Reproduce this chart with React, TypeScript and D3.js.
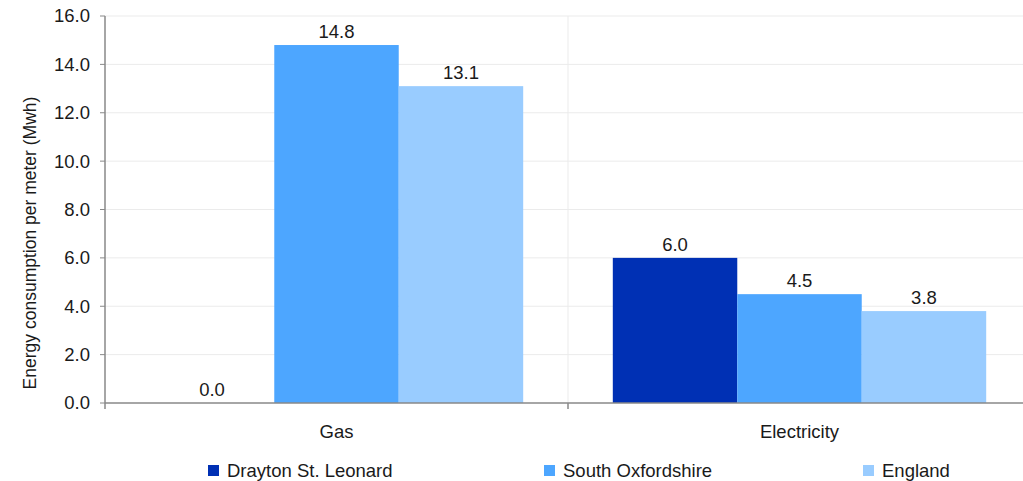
import React from "react";
import * as d3 from "d3";

const categories = ["Gas", "Electricity"];
const seriesNames = ["Drayton St. Leonard", "South Oxfordshire", "England"];
const drayton = [0.0, 6.0];
const southOx = [14.8, 4.5];
const england = [13.1, 3.8];
const yTicks = [0, 2, 4, 6, 8, 10, 12, 14, 16];
const colors = ["#0030b4", "#4da6ff", "#99ccff"];

const W = 1023;
const H = 481;
const left = 105;
const right = 1031;
const top = 16;
const bottom = 403;
const font = "'Liberation Sans', Arial, Helvetica, sans-serif";
const fs = 18.5;

export default function App() {
  const series = [drayton, southOx, england];
  const x0 = d3.scaleBand<string>().domain(categories).range([left, right]).paddingInner(0).paddingOuter(0);
  const x1 = d3.scaleBand<string>().domain(seriesNames).range([0, x0.bandwidth()]).paddingOuter(0.36).paddingInner(0);
  const y = d3.scaleLinear().domain([0, 16]).range([bottom, top]);

  const legendX = [208, 544, 863];

  return (
    <svg width={W} height={H} style={{ position: "absolute", left: 0, top: 0 }} fontFamily={font}>
      <rect width={W} height={H} fill="#fff" />
      {yTicks.map((t) => (
        <g key={t}>
          {t > 0 && <line x1={left} x2={right} y1={y(t)} y2={y(t)} stroke="#ebebeb" strokeWidth={1} />}
          <line x1={left - 5} x2={left} y1={y(t)} y2={y(t)} stroke="#888" strokeWidth={1} />
          <text x={left - 15} y={y(t)} dy="0.35em" textAnchor="end" fontSize={fs} fill="#1a1a1a">
            {t.toFixed(1)}
          </text>
        </g>
      ))}
      {categories.slice(1).map((c) => (
        <line key={c} x1={x0(c)!} x2={x0(c)!} y1={top} y2={bottom} stroke="#ebebeb" strokeWidth={1} />
      ))}
      {categories.map((c, ci) => (
        <g key={c}>
          {seriesNames.map((s, si) => {
            const v = series[si][ci];
            const bx = x0(c)! + x1(s)!;
            const bw = x1.bandwidth();
            return (
              <g key={s}>
                <rect x={bx} y={y(v)} width={bw} height={bottom - y(v)} fill={colors[si]} />
                <text x={bx + bw / 2} y={y(v) - 7} textAnchor="middle" fontSize={fs} fill="#1a1a1a">
                  {v.toFixed(1)}
                </text>
              </g>
            );
          })}
          <text x={x0(c)! + x0.bandwidth() / 2} y={438} textAnchor="middle" fontSize={fs} fill="#1a1a1a">
            {c}
          </text>
        </g>
      ))}
      <line x1={left} x2={left} y1={top} y2={bottom} stroke="#888" strokeWidth={1.5} />
      <line x1={left} x2={right} y1={bottom} y2={bottom} stroke="#888" strokeWidth={1.5} />
      {categories.map((c) => (
        <line key={c} x1={x0(c)!} x2={x0(c)!} y1={bottom} y2={bottom + 6} stroke="#888" strokeWidth={1.5} />
      ))}
      <text
        transform={`translate(36,243) rotate(-90)`}
        textAnchor="middle"
        fontSize={17.5}
        fill="#1a1a1a"
      >
        Energy consumption per meter (Mwh)
      </text>
      {seriesNames.map((s, i) => (
        <g key={s}>
          <rect x={legendX[i]} y={465} width={11} height={11} fill={colors[i]} />
          <text x={legendX[i] + 19} y={477} fontSize={fs} fill="#1a1a1a">
            {s}
          </text>
        </g>
      ))}
    </svg>
  );
}
